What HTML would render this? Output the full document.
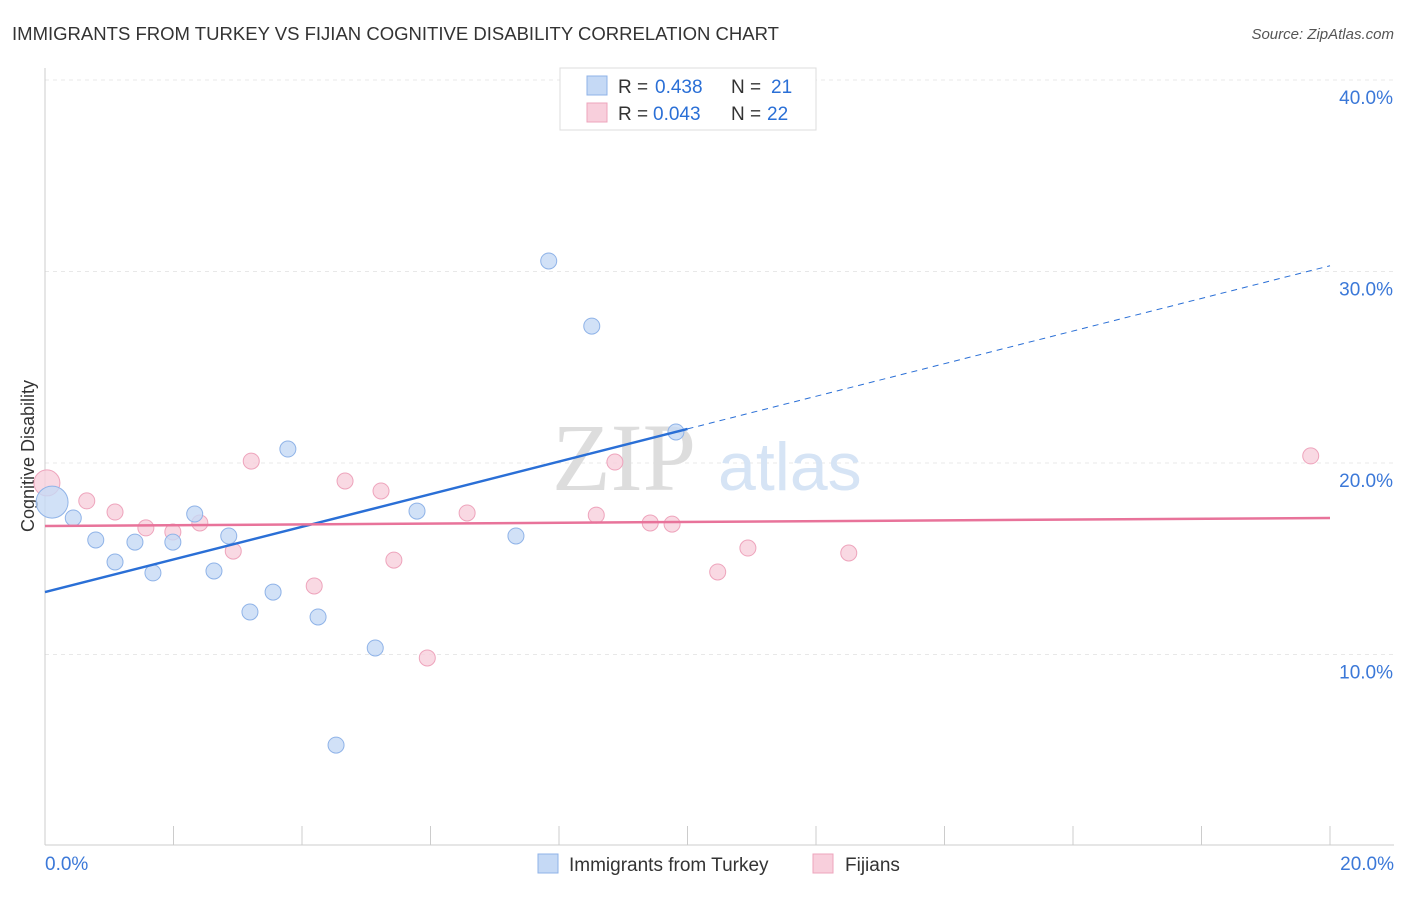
<!DOCTYPE html>
<html><head><meta charset="utf-8"><style>
body{margin:0;background:#fff;font-family:"Liberation Sans",sans-serif;}
</style></head><body>
<svg id="chart" width="1406" height="892" xmlns="http://www.w3.org/2000/svg">
<text x="12" y="40" font-size="18" fill="#333" textLength="767" lengthAdjust="spacingAndGlyphs">IMMIGRANTS FROM TURKEY VS FIJIAN COGNITIVE DISABILITY CORRELATION CHART</text>
<text x="1394" y="39" font-size="15" fill="#555" text-anchor="end" font-style="italic">Source: ZipAtlas.com</text>
<text x="34" y="456" font-size="18" fill="#333" text-anchor="middle" transform="rotate(-90 34 456)">Cognitive Disability</text>
<g id="grid"></g>
<text x="552" y="490" font-size="96" fill="#ddd" font-family="Liberation Serif,serif">ZIP</text>
<text x="718" y="490" font-size="68" fill="#d6e4f5">atlas</text>
<g id="marks"></g>
<g>
<rect x="560" y="68" width="256" height="62" fill="#fff" stroke="#ddd"/>
<rect x="587" y="76" width="20" height="19" fill="#c5d9f5" stroke="#8fb3e8"/>
<rect x="587" y="103" width="20" height="19" fill="#f8cfdc" stroke="#eea4bc"/>
<text x="618" y="93" font-size="19" fill="#333">R =</text>
<text x="655" y="93" font-size="19" fill="#2a6fd6">0.438</text>
<text x="731" y="93" font-size="19" fill="#333">N =</text>
<text x="771" y="93" font-size="19" fill="#2a6fd6">21</text>
<text x="618" y="120" font-size="19" fill="#333">R =</text>
<text x="653" y="120" font-size="19" fill="#2a6fd6">0.043</text>
<text x="731" y="120" font-size="19" fill="#333">N =</text>
<text x="767" y="120" font-size="19" fill="#2a6fd6">22</text>
</g>
<g>
<rect x="538" y="854" width="20" height="19" fill="#c5d9f5" stroke="#8fb3e8"/>
<text x="569" y="871" font-size="19" fill="#333">Immigrants from Turkey</text>
<rect x="813" y="854" width="20" height="19" fill="#f8cfdc" stroke="#eea4bc"/>
<text x="845" y="871" font-size="19" fill="#333">Fijians</text>
</g>
</svg>
<script>
const yTicks=[10,20,30,40];
const yTickLabels=["10.0%","20.0%","30.0%","40.0%"];
const xTickLabels=["0.0%","20.0%"];
const blueX=[0.11,0.44,0.79,1.09,1.40,1.68,1.99,2.33,2.63,2.86,3.19,3.55,3.78,4.25,4.53,5.14,5.79,7.33,7.84,8.51,9.82];
const blueY=[17.96,17.13,15.98,14.83,15.87,14.26,15.87,17.34,14.36,16.19,12.22,13.26,20.73,11.96,5.27,10.34,17.49,16.19,30.55,27.15,21.62];
const pinkX=[0.03,0.65,1.09,1.57,1.99,2.41,2.93,3.21,4.19,4.67,5.23,5.43,5.95,6.57,8.58,8.87,9.42,9.76,10.47,10.94,12.51,19.70];
const pinkY=[18.96,18.02,17.44,16.61,16.40,16.87,15.40,20.10,13.58,19.06,18.54,14.93,9.82,17.39,17.28,20.05,16.87,16.81,14.31,15.56,15.30,20.37];
const blueTrend=[13.26,0.852];
const pinkTrend=[16.71,0.021];
const NS="http://www.w3.org/2000/svg";
const xs=v=>45+v*64.25, ys=v=>846-v*19.15;
function mk(t,a,p){const e=document.createElementNS(NS,t);for(const k in a)e.setAttribute(k,a[k]);p.appendChild(e);return e;}
const g=document.getElementById('grid'), m=document.getElementById('marks');
yTicks.forEach((t,i)=>{
 const l=mk('line',{x1:45,x2:1394,y1:ys(t),y2:ys(t),stroke:'#e8e8e8','stroke-dasharray':'4,4'},g);
 
 
 const tx=mk('text',{x:1393,y:ys(t)+24,'font-size':19,fill:'#3b78d8','text-anchor':'end'},g);
 tx.textContent=yTickLabels[i];
 
 
});
const ax=mk('line',{x1:45,x2:1394,y1:845,y2:845,stroke:'#ccc'},g);


const ay=mk('line',{x1:45,x2:45,y1:68,y2:845,stroke:'#ccc'},g);


for(let i=0;i<=10;i++){
 const t=mk('line',{x1:xs(i*2),x2:xs(i*2),y1:826,y2:845,stroke:'#ccc'},g);
 
 
}
[[0,45,'start'],[20,1394,'end']].forEach((d,i)=>{
 const t=mk('text',{x:d[1],y:870,'font-size':19,fill:'#3b78d8','text-anchor':d[2]},g);
 t.textContent=xTickLabels[i];
 
 
});
pinkX.forEach((x,i)=>{
 const c=mk('circle',{cx:xs(x),cy:ys(pinkY[i]),r:i==0?13:8,fill:'#f8cfdc','fill-opacity':0.8,stroke:'#eea4bc'},m);
 
 
});
blueX.forEach((x,i)=>{
 const c=mk('circle',{cx:xs(x),cy:ys(blueY[i]),r:i==0?16:8,fill:'#c5d9f5','fill-opacity':0.8,stroke:'#8fb3e8'},m);
 
 
});
const bt=x=>blueTrend[0]+blueTrend[1]*x, pt=x=>pinkTrend[0]+pinkTrend[1]*x;
const b1=mk('line',{x1:xs(0),y1:ys(bt(0)),x2:xs(10),y2:ys(bt(10)),stroke:'#2a6fd6','stroke-width':2.5},m);


const b2=mk('line',{x1:xs(10),y1:ys(bt(10)),x2:xs(20),y2:ys(bt(20)),stroke:'#2a6fd6','stroke-width':1,'stroke-dasharray':'6,5'},m);


const p1=mk('line',{x1:xs(0),y1:ys(pt(0)),x2:xs(20),y2:ys(pt(20)),stroke:'#e8739a','stroke-width':2.5},m);


</script>
</body></html>
